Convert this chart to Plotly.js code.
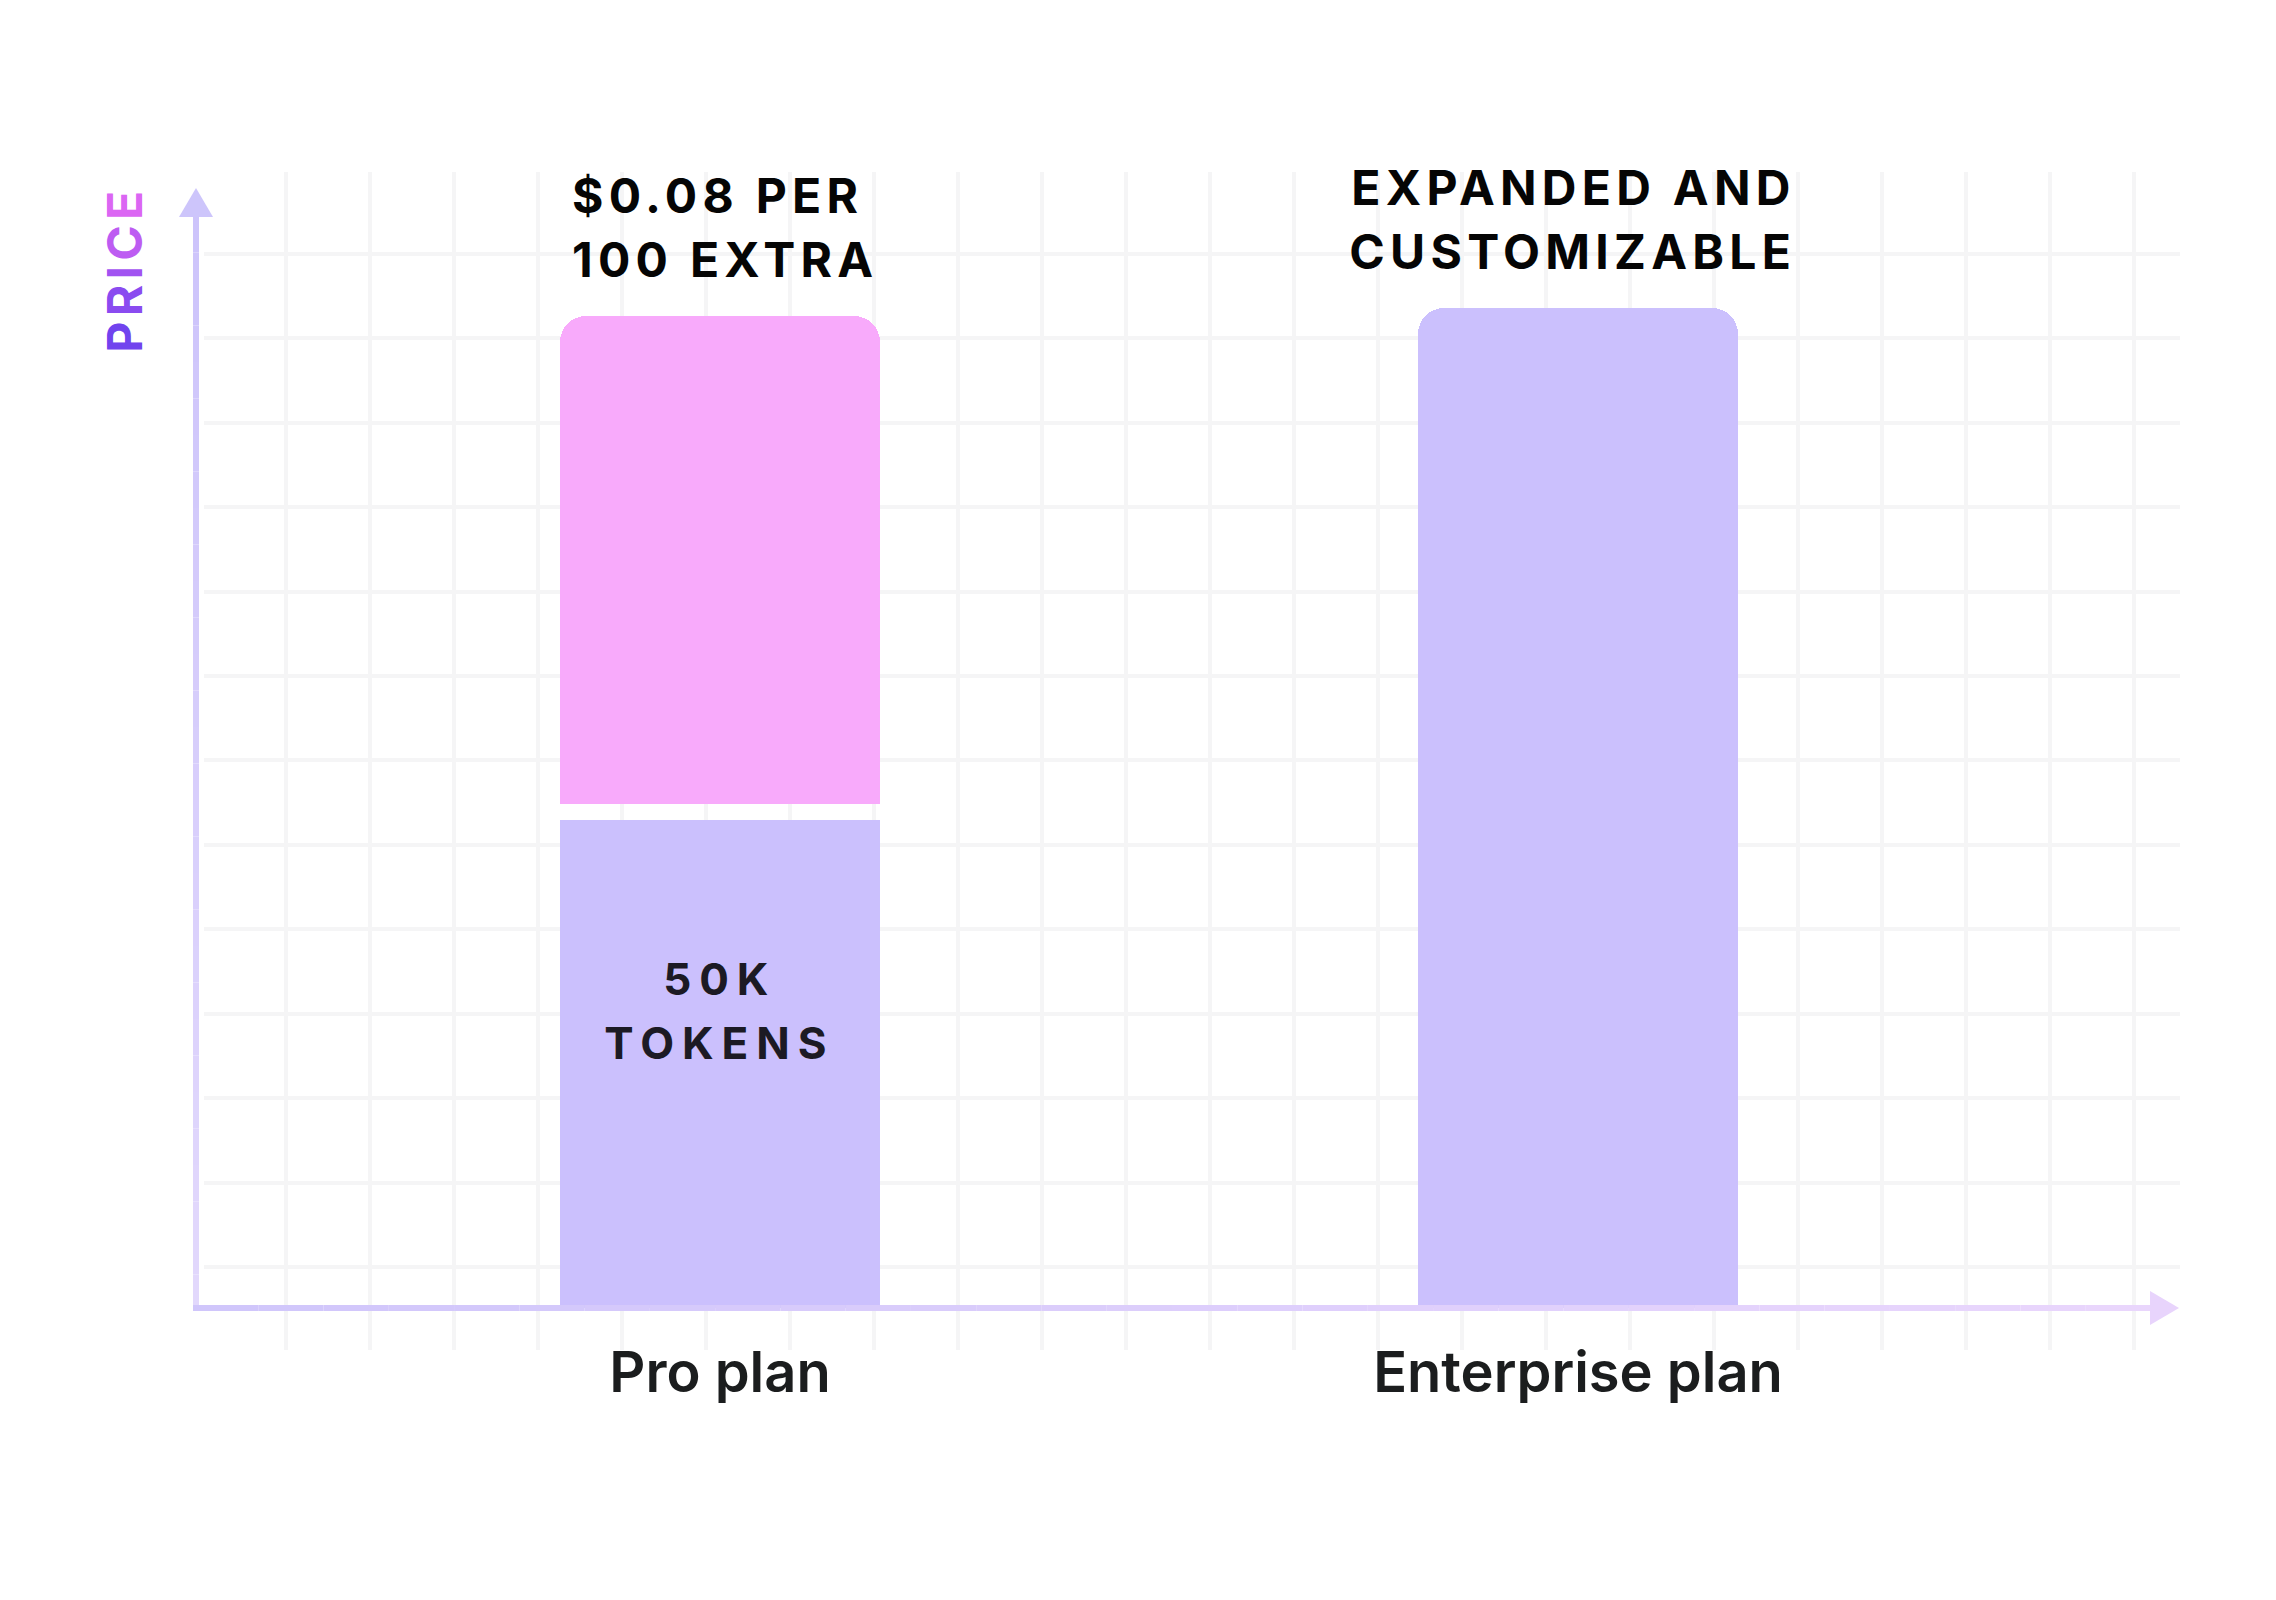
<!DOCTYPE html>
<html><head><meta charset="utf-8">
<script src="https://cdn.plot.ly/plotly-3.0.1.min.js"></script>
<style>
html,body{margin:0;padding:0;background:#fff;}
#chart{width:2276px;height:1600px;}
.annotation text{letter-spacing:0.11em;}
.annotation[data-index="4"] text,.annotation[data-index="5"] text{letter-spacing:0.18em;}
</style></head><body><div id="chart"></div>
<script>
// ---------- data ----------
const plans = ['Pro plan', 'Enterprise plan'];
const proIncluded = [48.8];     // included tier of the Pro plan
const proExtra = [48.8];        // pay-as-you-go tier of the Pro plan
const enterprise = [100];       // Enterprise plan
const labelIncluded = ['50K', 'TOKENS'];
const labelExtra = ['$0.08 PER', '100 EXTRA'];
const labelEnterprise = ['EXPANDED AND', 'CUSTOMIZABLE'];
const yTitle = 'PRICE';

// ---------- layout geometry ----------
const L = 204, R = 2180, T = 172, B = 1350;
const PW = R - L, PH = B - T;
const px = x => (x - L) / PW, py = y => (B - y) / PH;
const catPx = 858, cat0 = 720;          // pixels between categories, pixel of first
const valPx = 10, zeroPx = 1308;        // pixels per value unit, pixel of zero
const barWidth = 320 / catPx;
const gapVal = 1.6;                     // white gap between the two Pro segments (style)
const cellX = 84, cellX0 = 286, cellY = 84.43, cellY0 = 1267;

const purple = '#cbc0fd', pink = '#f8aafb';
const font = 'Inter, "Noto Sans", sans-serif';
const idx = name => plans.indexOf(name);

const traces = [
  {type: 'bar', x: [idx(plans[0])], y: proIncluded, width: barWidth,
   marker: {color: purple}, hoverinfo: 'skip', name: 'Included'},
  {type: 'bar', x: [idx(plans[0])], y: [gapVal], width: barWidth,
   marker: {color: 'rgba(0,0,0,0)'}, hoverinfo: 'skip', name: 'gap'},
  {type: 'bar', x: [idx(plans[0])], y: proExtra, width: barWidth,
   marker: {color: pink}, hoverinfo: 'skip', name: 'Extra'},
  {type: 'bar', x: [idx(plans[1])], y: enterprise, width: barWidth,
   marker: {color: purple}, hoverinfo: 'skip', name: 'Enterprise'}
];

// ---------- annotations ----------
const ann = [];
const lineGap = 64;
function addLines(lines, opts) {
  lines.forEach((t, i) => {
    ann.push(Object.assign({
      text: t, showarrow: false, yanchor: 'middle',
      font: {family: font, size: opts.size, color: opts.color, weight: 700}
    }, opts.base, {yshift: opts.y0 - i * lineGap}));
  });
}
addLines(labelExtra, {size: 48, color: '#050505', y0: 121,
  base: {xref: 'x', x: idx(plans[0]) - barWidth / 2, xanchor: 'left', xshift: 10, yref: 'y',
         y: proIncluded[0] + gapVal + proExtra[0], align: 'left'}});
addLines(labelEnterprise, {size: 48, color: '#050505', y0: 121,
  base: {xref: 'x', x: idx(plans[1]), xanchor: 'center', xshift: -5, yref: 'y', y: enterprise[0]}});
addLines(labelIncluded, {size: 44, color: '#1c1a24', y0: -159,
  base: {xref: 'x', x: idx(plans[0]), xanchor: 'center', xshift: -1, yref: 'y', y: proIncluded[0]}});

const titleColors = ['#7143ee', '#8a4bf0', '#a153f1', '#bd5cf2', '#db66f3'];
ann.push({
  text: yTitle.split('').map((c, i) => `<span style="color:${titleColors[i]}">${c}</span>`).join(''),
  showarrow: false, textangle: -90, xref: 'paper', yref: 'paper',
  x: px(123.5), y: py(269), xanchor: 'center', yanchor: 'middle',
  font: {family: font, size: 48, weight: 700, color: titleColors[2]}
});

// ---------- axis arrows (decoration) ----------
const shapes = [];
function hex(c) { return [1, 3, 5].map(i => parseInt(c.substr(i, 2), 16)); }
function mix(a, b, t) { const A = hex(a), Bc = hex(b); return 'rgb(' + A.map((v, i) => Math.round(v + (Bc[i] - v) * t)).join(',') + ')'; }
const N = 30;
const yTop = 216, yBot = 1311, xA = 196;
for (let i = 0; i < N; i++) {
  const a = yTop + (yBot - yTop) * i / N, b = yTop + (yBot - yTop) * (i + 1) / N;
  shapes.push({type: 'line', xref: 'paper', yref: 'paper', x0: px(xA), x1: px(xA), y0: py(a), y1: py(b),
    line: {color: mix('#cdc4fb', '#e2d8fc', i / (N - 1)), width: 6}});
}
const xLeft = 193, xRight = 2151, yA = 1308;
for (let i = 0; i < N; i++) {
  const a = xLeft + (xRight - xLeft) * i / N, b = xLeft + (xRight - xLeft) * (i + 1) / N;
  shapes.push({type: 'line', xref: 'paper', yref: 'paper', x0: px(a), x1: px(b), y0: py(yA), y1: py(yA),
    line: {color: mix('#d0c6fb', '#e9d6fc', i / (N - 1)), width: 6}});
}
shapes.push({type: 'path', xref: 'paper', yref: 'paper', line: {width: 0}, fillcolor: '#cdc5fb',
  path: `M${px(196)},${py(188)} L${px(213)},${py(217)} L${px(179)},${py(217)} Z`});
shapes.push({type: 'path', xref: 'paper', yref: 'paper', line: {width: 0}, fillcolor: '#e8d4fc',
  path: `M${px(2179)},${py(1308)} L${px(2150)},${py(1291)} L${px(2150)},${py(1325)} Z`});

const gridColor = '#f5f5f6';
const layout = {
  width: 2276, height: 1600,
  margin: {l: L, r: 2276 - R, t: T, b: 1600 - B, pad: 0},
  paper_bgcolor: '#ffffff', plot_bgcolor: '#ffffff',
  showlegend: false, barmode: 'stack', barcornerradius: 26,
  xaxis: {type: 'linear', range: [(L - cat0) / catPx, (R - cat0) / catPx], showgrid: false,
    zeroline: false, showline: false, ticks: '', fixedrange: true,
    tickmode: 'array', tickvals: plans.map((p, i) => i), ticktext: plans,
    tickfont: {family: font, size: 56, color: '#1b1d1e', weight: 600}, ticklabelstandoff: -15,
    minor: {tickmode: 'linear', tick0: (cellX0 - cat0) / catPx, dtick: cellX / catPx,
            showgrid: true, gridcolor: gridColor, gridwidth: 4, ticks: ''}},
  yaxis: {range: [(zeroPx - B) / valPx, (zeroPx - T) / valPx], showgrid: false, zeroline: false,
    showline: false, showticklabels: false, ticks: '', fixedrange: true,
    tickmode: 'linear', tick0: 0, dtick: 1000,
    minor: {tickmode: 'linear', tick0: (zeroPx - cellY0) / valPx, dtick: cellY / valPx,
            showgrid: true, gridcolor: gridColor, gridwidth: 4, ticks: ''}},
  annotations: ann, shapes: shapes
};

Plotly.newPlot('chart', traces, layout, {displayModeBar: false, staticPlot: true});
</script></body></html>
